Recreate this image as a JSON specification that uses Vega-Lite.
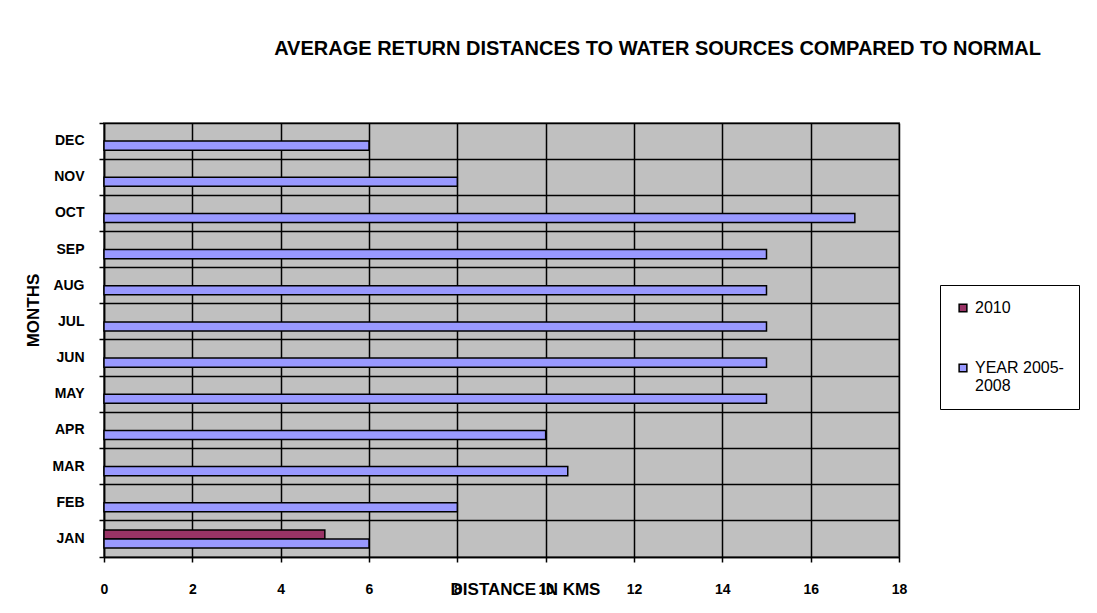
{
  "$schema": "https://vega.github.io/schema/vega-lite/v6.json",
  "width": 795,
  "height": 434,
  "autosize": {"type": "none"},
  "padding": {"left": 104, "top": 123, "right": 198, "bottom": 56},
  "background": "white",
  "title": {
    "text": "AVERAGE RETURN DISTANCES TO WATER SOURCES COMPARED TO NORMAL",
    "font": "Liberation Sans",
    "fontSize": 20,
    "fontWeight": "bold",
    "color": "black",
    "anchor": "middle",
    "frame": "group",
    "dx": 156,
    "offset": 41,
    "baseline": "alphabetic"
  },
  "data": {
    "values": [
      {"month": "JAN", "series": "2010", "km": 5},
      {"month": "JAN", "series": "YEAR 2005-2008", "km": 6},
      {"month": "FEB", "series": "YEAR 2005-2008", "km": 8},
      {"month": "MAR", "series": "YEAR 2005-2008", "km": 10.5},
      {"month": "APR", "series": "YEAR 2005-2008", "km": 10},
      {"month": "MAY", "series": "YEAR 2005-2008", "km": 15},
      {"month": "JUN", "series": "YEAR 2005-2008", "km": 15},
      {"month": "JUL", "series": "YEAR 2005-2008", "km": 15},
      {"month": "AUG", "series": "YEAR 2005-2008", "km": 15},
      {"month": "SEP", "series": "YEAR 2005-2008", "km": 15},
      {"month": "OCT", "series": "YEAR 2005-2008", "km": 17},
      {"month": "NOV", "series": "YEAR 2005-2008", "km": 8},
      {"month": "DEC", "series": "YEAR 2005-2008", "km": 6}
    ]
  },
  "mark": {"type": "bar", "stroke": "black", "strokeWidth": 1.5},
  "encoding": {
    "y": {
      "field": "month",
      "type": "nominal",
      "sort": ["DEC", "NOV", "OCT", "SEP", "AUG", "JUL", "JUN", "MAY", "APR", "MAR", "FEB", "JAN"],
      "scale": {"paddingInner": 0, "paddingOuter": 0},
      "axis": {
        "title": "MONTHS",
        "titleFont": "Liberation Sans",
        "titleFontSize": 17,
        "titleFontWeight": "bold",
        "titleColor": "black",
        "titleAngle": -90,
        "titleX": -71,
        "titleY": 187,
        "titleBaseline": "middle",
        "titleAlign": "center",
        "labelFont": "Liberation Sans",
        "labelFontSize": 14,
        "labelFontWeight": "bold",
        "labelColor": "black",
        "labelPadding": 15,
        "labelBaseline": "middle",
        "bandPosition": 1,
        "tickExtra": true,
        "tickColor": "black",
        "tickSize": 5,
        "tickWidth": 1.5,
        "domainColor": "black",
        "domainWidth": 1.5,
        "grid": true,
        "gridColor": "black",
        "gridWidth": 1.5,
        "gridOpacity": 1
      }
    },
    "yOffset": {
      "field": "series",
      "type": "nominal",
      "sort": ["2010", "YEAR 2005-2008"],
      "scale": {"paddingInner": 0, "paddingOuter": 1}
    },
    "x": {
      "field": "km",
      "type": "quantitative",
      "scale": {"domain": [0, 18], "nice": false},
      "axis": {
        "title": "DISTANCE IN KMS",
        "titleFont": "Liberation Sans",
        "titleFontSize": 17,
        "titleFontWeight": "bold",
        "titleColor": "black",
        "titleX": 421,
        "titleY": 32,
        "titleBaseline": "middle",
        "titleAlign": "center",
        "values": [0, 2, 4, 6, 8, 10, 12, 14, 16, 18],
        "labelFont": "Liberation Sans",
        "labelFontSize": 14,
        "labelFontWeight": "bold",
        "labelColor": "black",
        "labelPadding": 20,
        "labelFlush": false,
        "tickColor": "black",
        "tickSize": 5,
        "tickWidth": 1.5,
        "domainColor": "black",
        "domainWidth": 1.5,
        "grid": true,
        "gridColor": "black",
        "gridWidth": 1.5,
        "gridOpacity": 1
      }
    },
    "color": {
      "field": "series",
      "type": "nominal",
      "scale": {"domain": ["2010", "YEAR 2005-2008"], "range": ["#993366", "#9999FF"]},
      "legend": {
        "title": null,
        "orient": "none",
        "legendX": 836,
        "legendY": 162,
        "strokeColor": "black",
        "padding": 15,
        "rowPadding": 44,
        "symbolType": "square",
        "symbolSize": 60,
        "symbolStrokeColor": "black",
        "symbolStrokeWidth": 1.5,
        "symbolOpacity": 1,
        "labelFont": "Liberation Sans",
        "labelFontSize": 16,
        "labelColor": "black",
        "labelOffset": 4,
        "labelExpr": "datum.label == 'YEAR 2005-2008' ? ['YEAR 2005-', '2008'] : datum.label"
      }
    }
  },
  "config": {
    "view": {"fill": "#C0C0C0", "stroke": "#808080", "strokeWidth": 2}
  }
}
